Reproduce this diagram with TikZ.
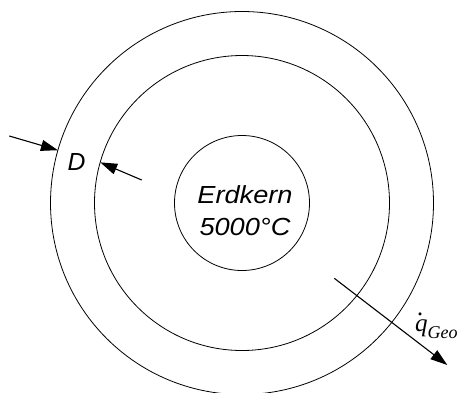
\documentclass[tikz,border=0pt]{standalone}
\usepackage{fontspec}
\setmainfont{Liberation Sans}
\newfontfamily\qfont{Liberation Serif}
\usetikzlibrary{arrows.meta}
\begin{document}
\begin{tikzpicture}[x=1pt,y=-1pt,
  ring/.style={circle,draw,line width=0.8pt,inner sep=0pt,outer sep=0pt},
  arr/.style={line width=1.1pt,-{Triangle[length=17pt,width=11pt]}},
  lab/.style={inner sep=0pt,font=\fontsize{24.7}{31.7}\selectfont\itshape}]
\useasboundingbox (0,0) rectangle (463,392);
\node[ring,minimum size=383pt] (outer) at (242,203) {};
\node[ring,minimum size=295pt] (mid) at (242,203) {};
\node[ring,minimum size=135pt] (core) at (242,203) {};
\node[lab,align=center,xscale=1.1] (txt) at (245,210.5) {Erdkern\\5000°C};
\node[lab,anchor=base west] (D) at (67.5,170.7) {D};
\coordinate (a1) at (9.3,136);
\coordinate (a2) at (141.7,180);
\coordinate (q1) at (334.3,278.3);
\coordinate (q2) at (447.3,365);
\draw[arr] (a1) -- (outer.164.9);
\draw[arr] (a2) -- (mid.164.9);
\draw[arr] (q1) -- (q2);
\node[inner sep=0pt,anchor=base west,font=\qfont\itshape\fontsize{25}{25}\selectfont] (q) at (415,331.5)
  {\ooalign{q\cr\hspace{2.4pt}\raisebox{16pt}{.}\cr}\raisebox{-7pt}{\fontsize{18}{18}\selectfont Geo}};
\end{tikzpicture}
\end{document}
